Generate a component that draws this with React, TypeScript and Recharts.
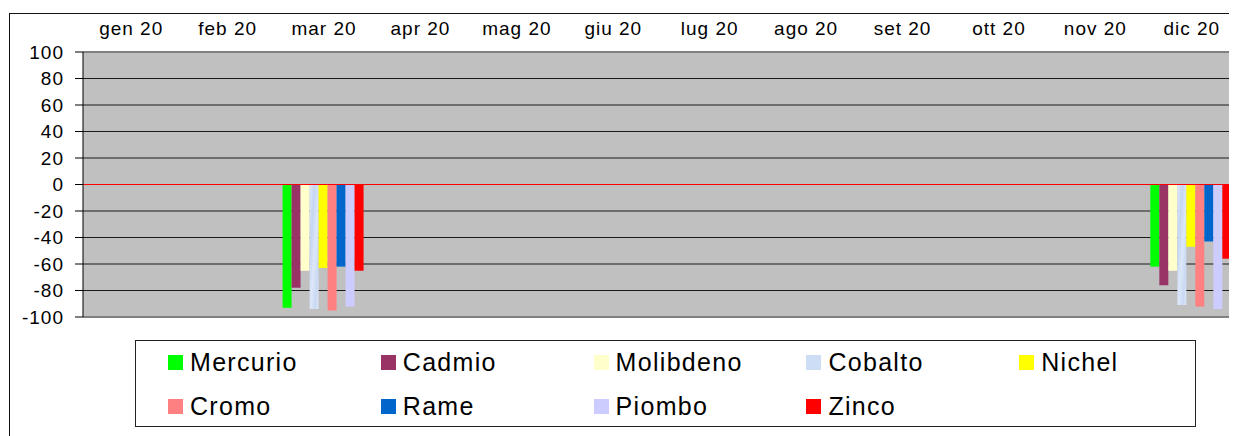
import React from 'react';
import { BarChart, Bar, XAxis, YAxis, CartesianGrid, ReferenceLine, Legend } from 'recharts';

// months (category axis, shown on top)
const months = ['gen 20', 'feb 20', 'mar 20', 'apr 20', 'mag 20', 'giu 20', 'lug 20', 'ago 20', 'set 20', 'ott 20', 'nov 20', 'dic 20'];

// values per metal, only mar 20 and dic 20 have readings
const mercurio = [null, null, -93, null, null, null, null, null, null, null, null, -62];
const cadmio = [null, null, -78, null, null, null, null, null, null, null, null, -76];
const molibdeno = [null, null, -65, null, null, null, null, null, null, null, null, -65];
const cobalto = [null, null, -94, null, null, null, null, null, null, null, null, -91];
const nichel = [null, null, -63, null, null, null, null, null, null, null, null, -47];
const cromo = [null, null, -95, null, null, null, null, null, null, null, null, -92];
const rame = [null, null, -62, null, null, null, null, null, null, null, null, -43];
const piombo = [null, null, -92, null, null, null, null, null, null, null, null, -94];
const zinco = [null, null, -65, null, null, null, null, null, null, null, null, -56];

const yTicks = [-100, -80, -60, -40, -20, 0, 20, 40, 60, 80, 100];

const seriesNames = ['Mercurio', 'Cadmio', 'Molibdeno', 'Cobalto', 'Nichel', 'Cromo', 'Rame', 'Piombo', 'Zinco'];
const seriesValues = [mercurio, cadmio, molibdeno, cobalto, nichel, cromo, rame, piombo, zinco];
const seriesColors = ['#00FF00', '#993366', '#FFFFCC', 'url(#cobaltoFill)', '#FFFF00', '#FF8080', '#0066CC', '#CCCCFF', '#FF0000'];
const legendColors = ['#00FF00', '#993366', '#FFFFCC', '#CCDDF5', '#FFFF00', '#FF8080', '#0066CC', '#CCCCFF', '#FF0000'];

const data = months.map((m, i) => {
    const row: Record<string, string | number | null> = { month: m };
    seriesNames.forEach((name, s) => {
        row[name] = seriesValues[s][i];
    });
    return row;
});

const FONT = '"Liberation Sans", Arial, sans-serif';

const MonthTick = (props: any) => {
    const { x, payload } = props;
    return (
        <text x={x} y={27} textAnchor="middle" fill="#000" fontSize={19} fontFamily={FONT} letterSpacing={1}>
            {payload.value}
        </text>
    );
};

const MetalLegend = () => (
    <div
        style={{
            position: 'relative',
            width: 1061,
            height: 87,
            border: '1px solid #222',
            boxSizing: 'border-box',
            background: '#fff',
            fontFamily: FONT,
        }}
    >
        {seriesNames.map((name, i) => {
            const col = i % 5;
            const row = Math.floor(i / 5);
            return (
                <div
                    key={name}
                    style={{
                        position: 'absolute',
                        left: 32 + col * 212.8,
                        top: 6 + row * 44,
                        height: 30,
                        display: 'flex',
                        alignItems: 'center',
                        whiteSpace: 'nowrap',
                    }}
                >
                    <span style={{ width: 15, height: 15, background: legendColors[i], marginRight: 7 }} />
                    <span style={{ fontSize: 25, letterSpacing: 1.3, color: '#000' }}>{name}</span>
                </div>
            );
        })}
    </div>
);

const App: React.FC = () => {
    return (
        <div style={{ position: 'relative', width: 1229, height: 428, overflow: 'hidden' }}>
            {/* outer chart frame, cut off on right and bottom */}
            <div
                style={{
                    position: 'absolute',
                    left: 1,
                    top: 5,
                    width: 1400,
                    height: 600,
                    border: '1px solid #111',
                    pointerEvents: 'none',
                }}
            />
            <BarChart
                width={1240}
                height={428}
                data={data}
                margin={{ top: 14, right: 8, bottom: 119, left: 0 }}
                barCategoryGap="7%"
                barGap={0}
            >
                <defs>
                    <linearGradient id="cobaltoFill" x1="0" y1="0" x2="1" y2="1">
                        <stop offset="0%" stopColor="#DDE8F8" />
                        <stop offset="30%" stopColor="#C6D6F2" />
                        <stop offset="55%" stopColor="#DCE7F8" />
                        <stop offset="80%" stopColor="#C9D9F3" />
                        <stop offset="100%" stopColor="#DDE8F8" />
                    </linearGradient>
                </defs>
                <CartesianGrid vertical={false} stroke="#1a1a1a" fill="#C0C0C0" fillOpacity={1} />
                <XAxis
                    dataKey="month"
                    orientation="top"
                    height={30}
                    axisLine={false}
                    tickLine={false}
                    tick={<MonthTick />}
                    interval={0}
                />
                <YAxis
                    width={75}
                    domain={[-100, 100]}
                    ticks={yTicks}
                    interval={0}
                    axisLine={{ stroke: '#000' }}
                    tickLine={{ stroke: '#000' }}
                    tickSize={8}
                    tickMargin={11}
                    tick={{ fill: '#000', fontSize: 19, fontFamily: FONT, letterSpacing: 1 }}
                />
                {seriesNames.map((name, i) => (
                    <Bar key={name} dataKey={name} fill={seriesColors[i]} isAnimationActive={false} />
                ))}
                <ReferenceLine y={100} stroke="#808080" strokeWidth={2} />
                <ReferenceLine y={-100} stroke="#808080" strokeWidth={2} />
                <ReferenceLine y={0} stroke="#FF0000" strokeWidth={1} />
                <Legend
                    layout="horizontal"
                    verticalAlign="middle"
                    align="center"
                    content={<MetalLegend />}
                    wrapperStyle={{ left: 127, top: 332, width: 1061, height: 87 }}
                />
            </BarChart>
        </div>
    );
};

export default App;
